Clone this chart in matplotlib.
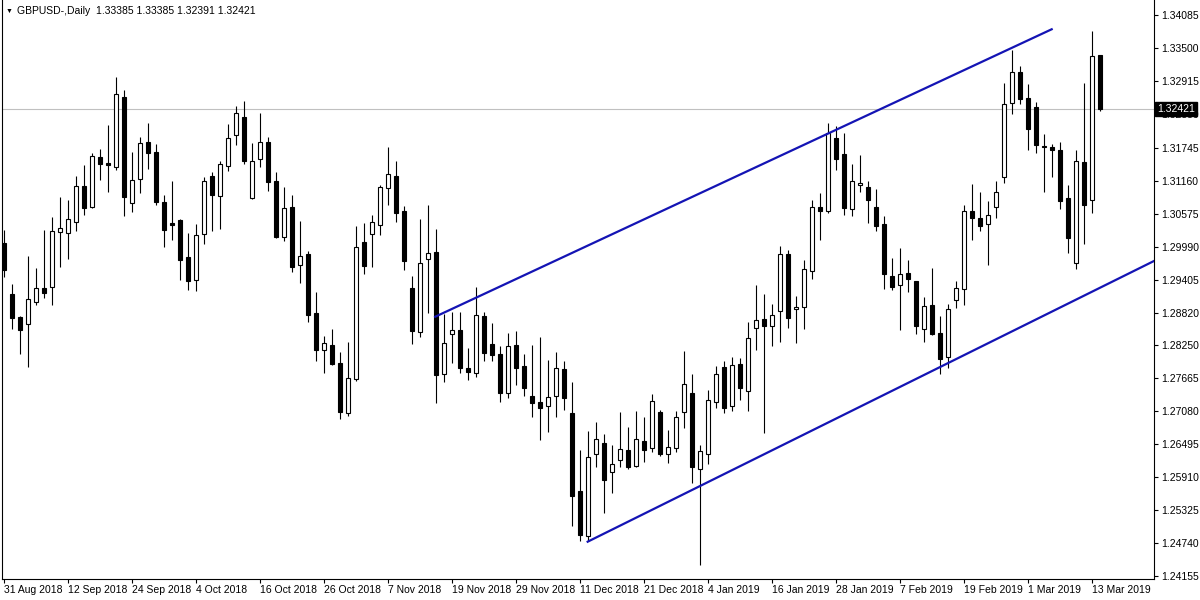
"""GBPUSD daily candlestick chart in the MetaTrader style."""

import matplotlib

matplotlib.use("Agg")
import matplotlib.pyplot as plt
import numpy as np
import pandas as pd

SYMBOL = "GBPUSD-,Daily"
HOLIDAYS = ["2018-12-25", "2019-01-01"]
DATES = pd.bdate_range("2018-08-31", periods=138, freq="C", holidays=HOLIDAYS)

OPEN = [
    1.3006, 1.2915, 1.2875, 1.2862, 1.2901, 1.2926, 1.2927, 1.3025, 1.3024, 1.3042,
    1.3106, 1.3070, 1.3158, 1.3147, 1.3140, 1.3264, 1.3077, 1.3119, 1.3184, 1.3167,
    1.3078, 1.3041, 1.3046, 1.2981, 1.2940, 1.3021, 1.3124, 1.3088, 1.3141, 1.3196,
    1.3228, 1.3085, 1.3154, 1.3184, 1.3115, 1.3017, 1.3070, 1.2966, 1.2986, 1.2881,
    1.2816, 1.2825, 1.2793, 1.2704, 1.2765, 1.3007, 1.3022, 1.3038, 1.3103, 1.3125,
    1.3062, 1.2926, 1.2848, 1.2977, 1.2990, 1.2773, 1.2845, 1.2852, 1.2784, 1.2775,
    1.2876, 1.2826, 1.2810, 1.2741, 1.2825, 1.2788, 1.2735, 1.2724, 1.2718, 1.2734,
    1.2783, 1.2705, 1.2567, 1.2487, 1.2633, 1.2651, 1.2600, 1.2622, 1.2639, 1.2611,
    1.2655, 1.2642, 1.2707, 1.2633, 1.2642, 1.2707, 1.2741, 1.2606, 1.2633, 1.2725,
    1.2786, 1.2718, 1.2791, 1.2744, 1.2855, 1.2871, 1.2858, 1.2885, 1.2986, 1.2888,
    1.2892, 1.2956, 1.3069, 1.3063, 1.3191, 1.3163, 1.3065, 1.3108, 1.3104, 1.3070,
    1.3040, 1.2948, 1.2932, 1.2952, 1.2938, 1.2854, 1.2895, 1.2846, 1.2804, 1.2904,
    1.2924, 1.3062, 1.3049, 1.3039, 1.3070, 1.3122, 1.3253, 1.3308, 1.3262, 1.3247,
    1.3178, 1.3175, 1.3170, 1.3085, 1.2971, 1.3149, 1.3081, 1.33385,
]
HIGH = [
    1.3029, 1.2933, 1.2876, 1.2983, 1.2961, 1.3029, 1.3052, 1.3087, 1.3082, 1.3124,
    1.3144, 1.3164, 1.3172, 1.3214, 1.3299, 1.3276, 1.3167, 1.3193, 1.3218, 1.3181,
    1.3090, 1.3115, 1.3048, 1.3023, 1.3040, 1.3122, 1.3132, 1.3150, 1.3216, 1.3248,
    1.3257, 1.3183, 1.3236, 1.3193, 1.3131, 1.3104, 1.3090, 1.3045, 1.2991, 1.2918,
    1.2841, 1.2853, 1.2813, 1.2830, 1.3035, 1.3041, 1.3055, 1.3108, 1.3175, 1.3150,
    1.3071, 1.2947, 1.3048, 1.3073, 1.3030, 1.2880, 1.2884, 1.2884, 1.2820, 1.2928,
    1.2884, 1.2864, 1.2823, 1.2846, 1.2850, 1.2809, 1.2825, 1.2839, 1.2799, 1.2813,
    1.2797, 1.2759, 1.2639, 1.2673, 1.2688, 1.2668, 1.2648, 1.2707, 1.2680, 1.2708,
    1.2698, 1.2738, 1.2710, 1.2675, 1.2708, 1.2814, 1.2774, 1.2648, 1.2745, 1.2788,
    1.2797, 1.2804, 1.2802, 1.2866, 1.2931, 1.2915, 1.2898, 1.3000, 1.2993, 1.2912,
    1.2976, 1.3082, 1.3094, 1.3218, 1.3213, 1.3200, 1.3145, 1.3161, 1.3115, 1.3102,
    1.3053, 1.2979, 1.2997, 1.2975, 1.2938, 1.2910, 1.2961, 1.2877, 1.2898, 1.2938,
    1.3072, 1.3110, 1.3096, 1.3080, 1.3115, 1.3289, 1.3348, 1.3319, 1.3287, 1.3255,
    1.3198, 1.3181, 1.3184, 1.3109, 1.3170, 1.3289, 1.3381, 1.33385,
]
LOW = [
    1.2945, 1.2854, 1.2809, 1.2786, 1.2895, 1.2908, 1.2896, 1.2964, 1.2977, 1.3026,
    1.3055, 1.3068, 1.3117, 1.3096, 1.3135, 1.3054, 1.3061, 1.3094, 1.3137, 1.3073,
    1.2999, 1.3011, 1.2940, 1.2922, 1.2921, 1.3003, 1.3027, 1.3031, 1.3133, 1.3179,
    1.3146, 1.3083, 1.3140, 1.3098, 1.3014, 1.3010, 1.2955, 1.2935, 1.2866, 1.2796,
    1.2776, 1.2790, 1.2695, 1.2699, 1.2762, 1.2951, 1.2964, 1.3020, 1.3072, 1.3043,
    1.2957, 1.2826, 1.2840, 1.2881, 1.2723, 1.2760, 1.2794, 1.2776, 1.2764, 1.2769,
    1.2797, 1.2796, 1.2725, 1.2732, 1.2755, 1.2734, 1.2698, 1.2657, 1.2672, 1.2698,
    1.2710, 1.2505, 1.2479, 1.2478, 1.2610, 1.2528, 1.2564, 1.2610, 1.2606, 1.2610,
    1.2618, 1.2635, 1.2629, 1.2616, 1.2635, 1.2679, 1.2580, 1.2435, 1.2615, 1.2714,
    1.2705, 1.2709, 1.2727, 1.2709, 1.2817, 1.2669, 1.2823, 1.2830, 1.2856, 1.2829,
    1.2854, 1.2941, 1.3011, 1.3058, 1.3135, 1.3056, 1.3054, 1.3096, 1.3041, 1.3027,
    1.2924, 1.2922, 1.2852, 1.2919, 1.2844, 1.2831, 1.2843, 1.2773, 1.2785, 1.2891,
    1.2895, 1.3011, 1.3026, 1.2967, 1.3049, 1.3112, 1.3233, 1.3252, 1.3171, 1.3165,
    1.3096, 1.3123, 1.3066, 1.2988, 1.2960, 1.3004, 1.3059, 1.32391,
]
CLOSE = [
    1.2957, 1.2872, 1.2852, 1.2906, 1.2926, 1.2917, 1.3026, 1.3032, 1.3048, 1.3106,
    1.3068, 1.3159, 1.3146, 1.3144, 1.3269, 1.3087, 1.3117, 1.3183, 1.3165, 1.3078,
    1.3029, 1.3038, 1.2976, 1.2939, 1.3019, 1.3115, 1.3091, 1.3145, 1.3191, 1.3235,
    1.3151, 1.3150, 1.3184, 1.3114, 1.3016, 1.3067, 1.2964, 1.2982, 1.2879, 1.2817,
    1.2828, 1.2791, 1.2707, 1.2766, 1.2998, 1.2965, 1.3042, 1.3104, 1.3127, 1.3059,
    1.2974, 1.2849, 1.2970, 1.2988, 1.2772, 1.2828, 1.2851, 1.2785, 1.2778, 1.2878,
    1.2811, 1.2808, 1.2741, 1.2823, 1.2785, 1.2749, 1.2723, 1.2714, 1.2733, 1.2784,
    1.2732, 1.2558, 1.2488, 1.2627, 1.2658, 1.2587, 1.2614, 1.2641, 1.2610, 1.2658,
    1.2639, 1.2726, 1.2633, 1.2644, 1.2697, 1.2756, 1.2610, 1.2637, 1.2727, 1.2773,
    1.2714, 1.2789, 1.2749, 1.2837, 1.2869, 1.2859, 1.2879, 1.2986, 1.2873, 1.2892,
    1.2960, 1.3069, 1.3062, 1.3201, 1.3155, 1.3067, 1.3115, 1.3111, 1.3081, 1.3036,
    1.2950, 1.2928, 1.2951, 1.2941, 1.2859, 1.2894, 1.2845, 1.2800, 1.2888, 1.2926,
    1.3063, 1.3049, 1.3036, 1.3055, 1.3095, 1.3251, 1.3308, 1.3261, 1.3207, 1.3179,
    1.3176, 1.3170, 1.3080, 1.3015, 1.3151, 1.3072, 1.3336, 1.32421,
]

PRICE_TICKS = [
    1.34085, 1.33500, 1.32915, 1.32330, 1.31745, 1.31160, 1.30575, 1.29990, 1.29405,
    1.28820, 1.28250, 1.27665, 1.27080, 1.26495, 1.25910, 1.25325, 1.24740, 1.24155,
]
DATE_TICK_STEP = 8

# Trend line anchors: (bar index, price)
UPPER_LINE = [(53.9, 1.28751), (130.96, 1.33838)]
LOWER_LINE = [(72.96, 1.24770), (126.0, 1.28492)]

TREND_COLOR = "#1414b4"
PRICE_LINE_COLOR = "#c0c0c0"

plt.rcParams["font.family"] = ["Liberation Sans", "DejaVu Sans"]

W, H = 1200, 600
fig = plt.figure(figsize=(W / 100, H / 100), dpi=100)
ax = fig.add_axes([2 / W, 21 / H, 1152 / W, 579 / H])
ax.set_xlim(-0.25, 143.75)
ax.set_ylim(1.24110, 1.34356)

o = np.array(OPEN)
h = np.array(HIGH)
lo = np.array(LOW)
c = np.array(CLOSE)
x = np.arange(len(o))
up = c > o

ax.axhline(CLOSE[-1], color=PRICE_LINE_COLOR, lw=0.8, zorder=1)

ax.vlines(x, lo, h, colors="black", linewidth=0.8, zorder=2)
ax.bar(
    x,
    np.maximum(np.abs(c - o), 0.00003),
    bottom=np.minimum(o, c),
    width=0.55,
    color=np.where(up, "white", "black"),
    edgecolor="black",
    linewidth=0.8,
    zorder=3,
)


def draw_ray(ax, anchors, x_end=None):
    (x0, y0), (x1, y1) = anchors
    if x_end is None:
        x_end = x1
    slope = (y1 - y0) / (x1 - x0)
    ax.plot([x0, x_end], [y0, y0 + slope * (x_end - x0)], color=TREND_COLOR, lw=1.6, zorder=4)


draw_ray(ax, UPPER_LINE)
draw_ray(ax, LOWER_LINE, x_end=ax.get_xlim()[1])

for side in ("left", "right", "bottom"):
    ax.spines[side].set_linewidth(0.8)
    ax.spines[side].set_color("black")
ax.spines["top"].set_visible(False)

ax.yaxis.tick_right()
ax.set_yticks(PRICE_TICKS)
ax.set_yticklabels([f"{v:.5f}" for v in PRICE_TICKS])
ax.tick_params(axis="y", direction="out", length=3, width=0.8, labelsize=7.5, pad=2)

xt = list(range(0, len(DATES), DATE_TICK_STEP))
ax.set_xticks(xt)
ax.set_xticklabels([f"{DATES[i].day} {DATES[i]:%b %Y}" for i in xt])
ax.tick_params(axis="x", direction="out", length=3, width=0.8, labelsize=7.5, pad=1)
for lbl in ax.get_xticklabels():
    lbl.set_horizontalalignment("left")

ax.annotate(
    f"{CLOSE[-1]:.5f}",
    xy=(1, CLOSE[-1]),
    xycoords=("axes fraction", "data"),
    xytext=(2, 0),
    textcoords="offset points",
    ha="left",
    va="center",
    color="white",
    fontsize=7.5,
    bbox=dict(boxstyle="square,pad=0.2", fc="black", ec="black"),
    annotation_clip=False,
    zorder=10,
)

fig.text(6 / W, 1 - 11 / H, "\u25bc", fontsize=5, va="center", ha="left")
fig.text(
    17 / W,
    1 - 11 / H,
    f"{SYMBOL}  {OPEN[-1]:.5f} {HIGH[-1]:.5f} {LOW[-1]:.5f} {CLOSE[-1]:.5f}",
    fontsize=7.5,
    va="center",
    ha="left",
)

fig.savefig("out.png", dpi=100)
